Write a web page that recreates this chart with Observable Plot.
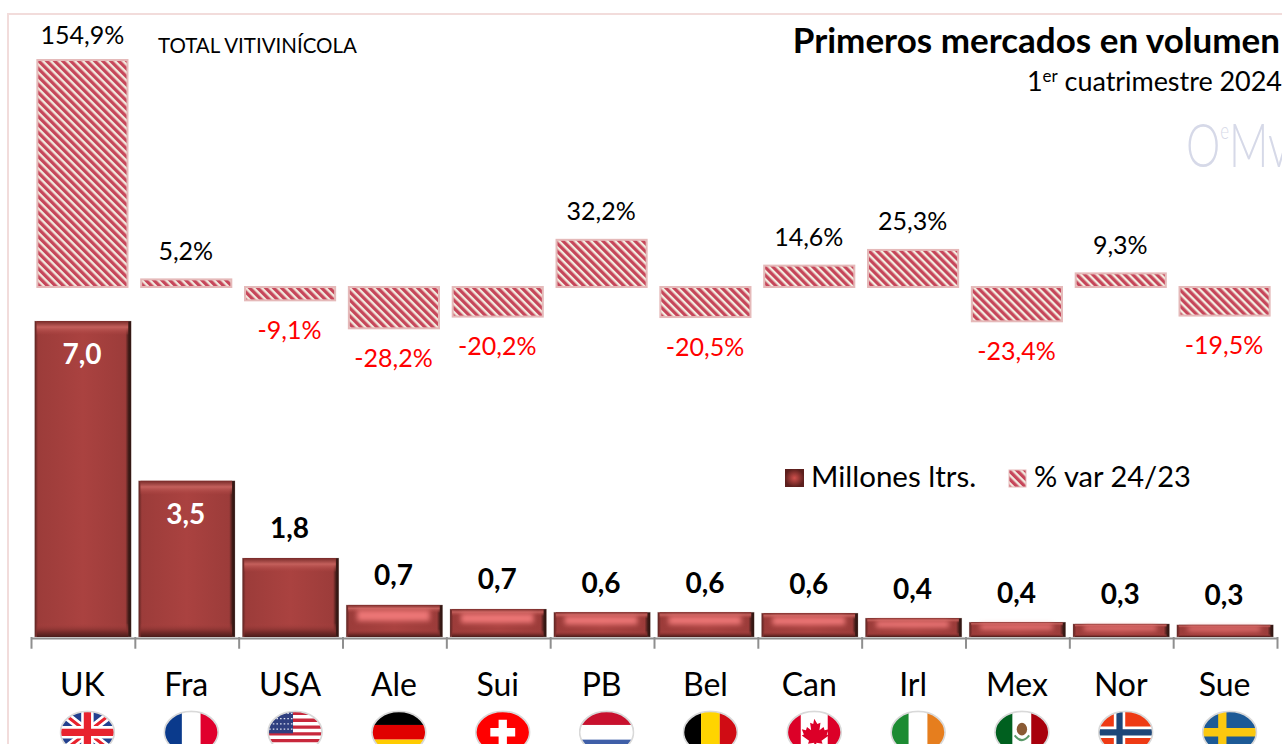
<!DOCTYPE html>
<html><head><meta charset="utf-8">
<script src="https://cdn.jsdelivr.net/npm/d3@7"></script>
<script src="https://cdn.jsdelivr.net/npm/@observablehq/plot@0.6"></script>
<style>html,body{margin:0;padding:0;background:#fff;overflow:hidden}svg{display:block}</style>
</head><body><div id="chart"></div>
<script>
const markets = ["UK","Fra","USA","Ale","Sui","PB","Bel","Can","Irl","Mex","Nor","Sue"];
const volume = [7.0,3.46,1.75,0.71,0.62,0.55,0.55,0.53,0.42,0.33,0.29,0.27];
const volumeLabels = ["7,0","3,5","1,8","0,7","0,7","0,6","0,6","0,6","0,4","0,4","0,3","0,3"];
const variation = [154.9,5.2,-9.1,-28.2,-20.2,32.2,-20.5,14.6,25.3,-23.4,9.3,-19.5];

const flagArt = {
 UK:`<rect width="54" height="42" fill="#22408f"/><path d="M0 0L54 42M54 0L0 42" stroke="#fff" stroke-width="8"/><path d="M0 0L54 42M54 0L0 42" stroke="#e8222e" stroke-width="3"/><path d="M27 0V42M0 21H54" stroke="#fff" stroke-width="12"/><path d="M27 0V42M0 21H54" stroke="#e8222e" stroke-width="7"/>`,
 Fra:`<rect width="18" height="42" fill="#0a3a8c"/><rect x="18" width="18" height="42" fill="#fff"/><rect x="36" width="18" height="42" fill="#e0002d"/>`,
 USA:`<rect width="54" height="42" fill="#fff"/><path d="M0 3H54M0 9.500H54M0 16H54M0 22.500H54M0 29H54M0 35.500H54M0 41H54" stroke="#c8283c" stroke-width="3.200"/><rect width="25" height="22" fill="#2f3f80"/><path d="M2 3H25M2 8H25M2 13H25M2 18H25" stroke="#dfe3f2" stroke-width="1.300" stroke-dasharray="1.500 2"/>`,
 Ale:`<rect width="54" height="14" fill="#000"/><rect y="14" width="54" height="14" fill="#e00000"/><rect y="28" width="54" height="14" fill="#ffcc00"/>`,
 Sui:`<rect width="54" height="42" fill="#ff0000"/><path d="M27 9V33M15 21H39" stroke="#fff" stroke-width="8"/>`,
 PB:`<rect width="54" height="14" fill="#c8112e"/><rect y="14" width="54" height="14" fill="#fff"/><rect y="28" width="54" height="14" fill="#3f5fa8"/>`,
 Bel:`<rect width="18" height="42" fill="#000"/><rect x="18" width="18" height="42" fill="#ffd400"/><rect x="36" width="18" height="42" fill="#d00c14"/>`,
 Can:`<rect width="54" height="42" fill="#fff"/><rect width="14" height="42" fill="#dc0028"/><rect x="40" width="14" height="42" fill="#dc0028"/><path d="M27 8l3 5 3-1-1 7 4-3 1 3 4-1-2 5 2 1-7 5 1 3-6-1v5h-2v-5l-6 1 1-3-7-5 2-1-2-5 4 1 1-3 4 3-1-7 3 1z" fill="#dc0028"/>`,
 Irl:`<rect width="18" height="42" fill="#1c8b32"/><rect x="18" width="18" height="42" fill="#fff"/><rect x="36" width="18" height="42" fill="#e67e1e"/>`,
 Mex:`<rect width="18" height="42" fill="#00601f"/><rect x="18" width="18" height="42" fill="#fff"/><rect x="36" width="18" height="42" fill="#a8000c"/><ellipse cx="27" cy="18" rx="5" ry="6" fill="#8a5a34"/><path d="M20 24Q27 33 34 24" fill="none" stroke="#5b9a6a" stroke-width="2"/>`,
 Nor:`<rect width="54" height="42" fill="#ee3a14"/><path d="M21 0V42M0 21H54" stroke="#fff" stroke-width="11"/><path d="M21 0V42M0 21H54" stroke="#1e4678" stroke-width="6"/>`,
 Sue:`<rect width="54" height="42" fill="#1d5a96"/><path d="M20 0V42M0 21H54" stroke="#fbc80f" stroke-width="8"/>`
};
const flagUri = k => "data:image/svg+xml," + encodeURIComponent(
 `<svg xmlns="http://www.w3.org/2000/svg" viewBox="0 0 54 42"><defs><clipPath id="c"><ellipse cx="27" cy="21" rx="26" ry="20"/></clipPath></defs><g clip-path="url(#c)">${flagArt[k]}</g><ellipse cx="27" cy="21" rx="26" ry="20" fill="none" stroke="#d9d9d9" stroke-width="1.600"/></svg>`);

const rows = markets.map((name,i)=>({name,i,v:volume[i],label:volumeLabels[i],p:variation[i],
  pLabel:variation[i].toFixed(1).replace(".",",")+"%", flag:flagUri(name)}));

// Both series share the frame: the % bars sit on their own zero line above the volume bars.
const pctZero = 7.753, pctUnit = 0.03246;
const pctY = p => pctZero + p*pctUnit;
const band = d => Math.min(0.3, d.v*0.24);

const NS = "http://www.w3.org/2000/svg";
const defs = () => {
  const g = document.createElementNS(NS,"g");
  g.innerHTML = `<defs>
   <pattern id="hatch" width="5.66" height="5.66" patternUnits="userSpaceOnUse" patternTransform="rotate(-45)">
     <rect width="5.66" height="5.66" fill="#f2ece0"/><rect width="3.3" height="5.66" fill="#c6465a"/></pattern>
   <linearGradient id="edge" x1="0" x2="1" y1="0" y2="0">
     <stop offset="0" stop-color="#5a2220"/><stop offset=".035" stop-color="#9c3c3a"/><stop offset=".5" stop-color="#aa4240"/>
     <stop offset=".94" stop-color="#9c3c3a"/><stop offset=".975" stop-color="#3c1a16"/><stop offset="1" stop-color="#2c1410"/></linearGradient>
   <linearGradient id="top" x1="0" x2="0" y1="0" y2="1">
     <stop offset="0" stop-color="#772a28"/><stop offset=".45" stop-color="#c4605c"/><stop offset="1" stop-color="#aa4240" stop-opacity=".2"/></linearGradient>
   <linearGradient id="bottom" x1="0" x2="0" y1="0" y2="1">
     <stop offset="0" stop-color="#aa4240" stop-opacity=".1"/><stop offset=".6" stop-color="#7c2e2c"/><stop offset="1" stop-color="#4a1c1a"/></linearGradient>
   <radialGradient id="swatch"><stop offset="0" stop-color="#d0504c"/><stop offset="1" stop-color="#5c1f1d"/></radialGradient>
  </defs>`;
  return g;
};
const decor = () => {
  const g = document.createElementNS(NS,"g");
  g.innerHTML = `
   <rect x="8" y="14" width="1500" height="1000" fill="none" stroke="#f2dcdb" stroke-width="2"/>
   <text transform="translate(1186 167) scale(.7 1)" text-anchor="start" font-family="Lato" font-weight="300" font-size="62" fill="#d6d9e8">O<tspan dy="-28" font-size="24">e</tspan><tspan dy="28" font-size="62">Mv</tspan></text>
   <text x="1280" y="53" text-anchor="end" font-family="Lato" font-weight="700" font-size="35" fill="#000">Primeros mercados en volumen</text>
   <text x="1282" y="91" text-anchor="end" font-family="Lato" font-size="27" fill="#000" textLength="255" lengthAdjust="spacing">1<tspan dy="-9" font-size="17">er</tspan><tspan dy="9"> cuatrimestre 2024</tspan></text>
   <text x="158" y="53" text-anchor="start" font-family="Lato" font-size="20.500" fill="#000">TOTAL VITIVINÍCOLA</text>
   <rect x="785" y="469" width="19" height="18" fill="url(#swatch)"/>
   <text x="811" y="487" text-anchor="start" font-family="Lato" font-size="29.500" fill="#000">Millones ltrs.</text>
   <rect x="1009" y="470" width="17" height="17" fill="url(#hatch)" stroke="#e5b9b9"/>
   <text x="1034" y="487" text-anchor="start" font-family="Lato" font-size="29" fill="#000">% var 24/23</text>`;
  return g;
};

const chart = Plot.plot({
  width:1282, height:744,
  marginTop:0, marginLeft:0, marginRight:0, marginBottom:107,
  style:{fontFamily:"Lato", background:"#fff", overflow:"hidden"},
  x:{domain:[0,12], range:[31,1277]},
  y:{domain:[0,7], range:[637,321], axis:null},
  marks:[
    defs, decor,
    // % variation
    Plot.rect(rows,{x1:d=>d.i+.066,x2:d=>d.i+.934,y1:d=>pctY(0),y2:d=>pctY(d.p),dx:-.5,fill:"url(#hatch)",stroke:"#e5b9b9",strokeWidth:2}),
    Plot.text(rows.filter(d=>d.p>=100),{x:d=>d.i+.5,y:d=>pctY(d.p),text:"pLabel",dx:-1,dy:-25,fontSize:25,fill:"#000"}),
    Plot.text(rows.filter(d=>d.p>=0&&d.p<100),{x:d=>d.i+.5,y:d=>pctY(d.p),text:"pLabel",dx:-1.500,dy:-28,fontSize:25,fill:"#000"}),
    Plot.text(rows.filter(d=>d.p<0),{x:d=>d.i+.5,y:d=>pctY(d.p),text:"pLabel",dx:-1.500,dy:30,fontSize:25,fill:"#ff0000"}),
    // volume
    Plot.rect(rows,{x1:d=>d.i+.035,x2:d=>d.i+.965,y1:0,y2:"v",fill:"url(#edge)",stroke:"#c9b4b0",strokeOpacity:.5,strokeWidth:.5}),
    Plot.rect(rows,{x1:d=>d.i+.035,x2:d=>d.i+.965,y1:"v",y2:d=>d.v-band(d),insetLeft:2,insetRight:3,fill:"url(#top)"}),
    Plot.rect(rows,{x1:d=>d.i+.035,x2:d=>d.i+.965,y1:d=>band(d),y2:0,insetLeft:2,insetRight:3,fill:"url(#bottom)"}),
    Plot.rect(rows.filter(d=>d.v<1),{x1:d=>d.i+.035,x2:d=>d.i+.965,y1:d=>d.v*.84,y2:d=>d.v*.5,insetLeft:11,insetRight:13,fill:"#f47c7c",fillOpacity:.9,imageFilter:"blur(2.500px)"}),
    Plot.text(rows.filter(d=>d.v>=3),{x:d=>d.i+.5,y:"v",text:"label",dx:-1.500,dy:34,fontSize:28,fontWeight:700,fill:"#fff"}),
    Plot.text(rows.filter(d=>d.v<3),{x:d=>d.i+.5,y:"v",text:"label",dx:-1.500,dy:-29,fontSize:28,fontWeight:700,fill:"#000"}),
    // axis
    Plot.ruleX(d3.range(13),{y1:0,y2:-0.26,stroke:"#8f8f8f",strokeWidth:2}),
    Plot.ruleY([0],{x1:0,x2:12,dy:1,stroke:"#8f8f8f",strokeWidth:2}),
    Plot.axisX({anchor:"bottom",ticks:rows.map(d=>d.i+.5),tickFormat:t=>markets[Math.floor(t)],tickSize:0,tickPadding:36,dx:-1,fontSize:32,fill:"#000",label:null}),
    Plot.image(rows,{x:d=>d.i+.5,y:d=>-2.1,src:"flag",width:56,height:44,dx:4,preserveAspectRatio:"none"})
  ]
});
document.getElementById("chart").append(chart);
</script></body></html>
